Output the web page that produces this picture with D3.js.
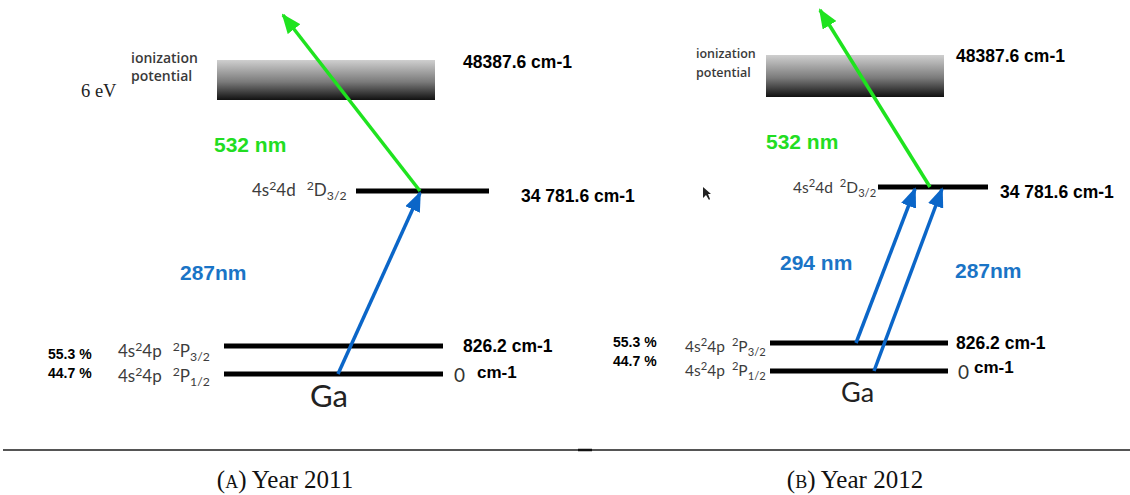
<!DOCTYPE html>
<html>
<head>
<meta charset="utf-8">
<script src="https://cdn.jsdelivr.net/npm/d3@7"></script>
<style>
  body { margin: 0; background: #fff; }
  svg { display: block; }
</style>
</head>
<body>
<svg id="chart" width="1130" height="495"></svg>
<script>
// energy levels of Ga (cm-1)
var levelNames = ["P1/2", "P3/2", "D3/2"];
var levelEnergies = [0, 826.2, 34781.6];
var levelConfigs = ["4s\u00b24p", "4s\u00b24p", "4s\u00b24d"];
var levelTerms = [["2", "P", "1/2"], ["2", "P", "3/2"], ["2", "D", "3/2"]];
var populations = ["44.7 %", "55.3 %"];
var ionizationEnergy = 48387.6;
var energyLabels = ["0", "826.2 cm-1", "34 781.6 cm-1", "48387.6 cm-1"];

// lasers used each year
var panelTags = ["(a)", "(b)"];
var panelYears = ["Year 2011", "Year 2012"];
var excitations2011 = [{ from: "P1/2", to: "D3/2", label: "287nm" }];
var excitations2012 = [
  { from: "P3/2", to: "D3/2", label: "294 nm" },
  { from: "P1/2", to: "D3/2", label: "287nm" }
];
var ionizingLabel = "532 nm";

var svg = d3.select("#chart");
var green = "#1fe31f", blue = "#0b66c8";
var boldFont = "Liberation Sans, Arial, sans-serif";

// gradient for ionization continuum
var defs = svg.append("defs");
var grad = defs.append("linearGradient").attr("id", "ipgrad")
    .attr("x1", 0).attr("y1", 0).attr("x2", 0).attr("y2", 1);
grad.append("stop").attr("offset", "0%").attr("stop-color", "#cfcfcf");
grad.append("stop").attr("offset", "55%").attr("stop-color", "#7a7a7a");
grad.append("stop").attr("offset", "100%").attr("stop-color", "#111");

function marker(id, color) {
  defs.append("marker").attr("id", id)
      .attr("viewBox", "0 0 20 16").attr("refX", 18).attr("refY", 8)
      .attr("markerWidth", 20).attr("markerHeight", 16)
      .attr("markerUnits", "userSpaceOnUse").attr("orient", "auto")
    .append("path").attr("d", "M0,0 L20,8 L0,16 Z").attr("fill", color);
}
marker("arrGreen", green);
marker("arrBlue", blue);

// layout of the two panels (pixel positions)
var panels = [
  { tag: panelTags[0], year: panelYears[0], ex: excitations2011,
    yRange: [374, 346, 191, 100], barTop: 60,
    lowX: [224, 443], dX: [356, 489], barX: [217, 435],
    exStartX: { "P1/2": 338 }, exEndX: [420],
    greenFrom: 420, greenTip: [283, 15],
    labelFont: 17, termGap: 11, ipX: 131, ipFont: 14, ipY: [63, 81], eV: true,
    pctX: 48, pctY: [378, 359], pctFont: 14, cfgX: 118, labDy: [8, 11, 5],
    gaX: 310, gaSize: 31, gaDy: 33,
    valX: 463, zeroX: 454, cmDx: 23, cmDy: 4, dValX: 521, dLabX: 252,
    ipValY: 68, dValDy: 11,
    exLabels: [[180, 280]], greenLab: [214, 152], caption: 285 },
  { tag: panelTags[1], year: panelYears[1], ex: excitations2012,
    yRange: [371, 343, 187, 97], barTop: 55,
    lowX: [770, 948], dX: [878, 988], barX: [766, 944],
    exStartX: { "P3/2": 856, "P1/2": 874 }, exEndX: [915, 942],
    greenFrom: 930, greenTip: [820, 10],
    labelFont: 15.5, termGap: 7, ipX: 696, ipFont: 12.5, ipY: [58, 77], eV: false,
    pctX: 613, pctY: [366, 347], pctFont: 14, cfgX: 685, labDy: [5, 9, 6],
    gaX: 841, gaSize: 27, gaDy: 31,
    valX: 956, zeroX: 958, cmDx: 16, cmDy: 2, dValX: 1000, dLabX: 793,
    ipValY: 62, dValDy: 11,
    exLabels: [[780, 270], [955, 278]], greenLab: [766, 149], caption: 855 }
];

panels.forEach(function(p) {
  var y = d3.scaleLinear()
      .domain(levelEnergies.concat([ionizationEnergy]))
      .range(p.yRange);
  var g = svg.append("g");

  // ionization continuum
  g.append("rect").attr("x", p.barX[0]).attr("y", p.barTop)
      .attr("width", p.barX[1] - p.barX[0]).attr("height", y(ionizationEnergy) - p.barTop)
      .attr("fill", "url(#ipgrad)");
  ["ionization", "potential"].forEach(function(w, i) {
    g.append("text").attr("x", p.ipX).attr("y", p.ipY[i])
        .attr("font-family", "Open Sans, sans-serif").attr("font-size", p.ipFont)
        .attr("font-weight", 600).attr("fill", "#3a3a3a").text(w);
  });
  if (p.eV) {
    g.append("text").attr("x", 81).attr("y", 97)
        .attr("font-family", "Liberation Serif, serif").attr("font-size", 18.5)
        .attr("fill", "#222").text("6 eV");
  }
  g.append("text").attr("x", p.valX).attr("y", p.ipValY)
      .attr("font-family", boldFont).attr("font-weight", "bold")
      .attr("font-size", 17.5).text(energyLabels[3]);

  // levels
  levelNames.forEach(function(n, i) {
    var yy = y(levelEnergies[i]);
    var xs = i < 2 ? p.lowX : p.dX;
    g.append("line").attr("x1", xs[0]).attr("x2", xs[1])
        .attr("y1", yy).attr("y2", yy)
        .attr("stroke", "#000").attr("stroke-width", 5);

    var fs = p.labelFont;
    var lx = i < 2 ? p.cfgX : p.dLabX;
    var t = g.append("text").attr("x", lx).attr("y", yy + p.labDy[i])
        .attr("font-family", "Lato, sans-serif").attr("font-size", fs)
        .attr("fill", "#3c3c3c");
    var cfg = levelConfigs[i];
    t.append("tspan").text(cfg.slice(0, 2));
    t.append("tspan").attr("font-size", fs * 0.72).attr("dy", -fs * 0.38).text("2");
    t.append("tspan").attr("dy", fs * 0.38).text(cfg.slice(3));
    var term = levelTerms[i];
    t.append("tspan").attr("font-size", fs * 0.72).attr("dx", p.termGap).attr("dy", -fs * 0.38).text(term[0]);
    t.append("tspan").attr("dy", fs * 0.38).text(term[1]);
    t.append("tspan").attr("font-size", fs * 0.72).attr("dy", fs * 0.25).text(term[2]);

    if (i < 2) {
      g.append("text").attr("x", p.pctX).attr("y", p.pctY[i])
          .attr("font-family", boldFont).attr("font-weight", "bold")
          .attr("font-size", p.pctFont).text(populations[i]);
    }
  });

  // energy values
  var y0 = y(levelEnergies[0]), y1 = y(levelEnergies[1]), y2 = y(levelEnergies[2]);
  g.append("text").attr("x", p.valX).attr("y", y1 + 6)
      .attr("font-family", boldFont).attr("font-weight", "bold")
      .attr("font-size", 17.5).text(energyLabels[1]);
  g.append("text").attr("x", p.zeroX).attr("y", y0 + 8)
      .attr("font-family", "Lato, sans-serif").attr("font-size", 19)
      .attr("fill", "#333").text(energyLabels[0]);
  g.append("text").attr("x", p.zeroX + p.cmDx).attr("y", y0 + p.cmDy)
      .attr("font-family", boldFont).attr("font-weight", "bold")
      .attr("font-size", 17).text("cm-1");
  g.append("text").attr("x", p.dValX).attr("y", y2 + p.dValDy)
      .attr("font-family", boldFont).attr("font-weight", "bold")
      .attr("font-size", 17.5).text(energyLabels[2]);

  g.append("text").attr("x", p.gaX).attr("y", y0 + p.gaDy)
      .attr("font-family", "Lato, sans-serif").attr("font-size", p.gaSize)
      .attr("fill", "#222").text("Ga");

  // excitation arrows
  p.ex.forEach(function(e, k) {
    var fromY = y(levelEnergies[levelNames.indexOf(e.from)]);
    var toY = y(levelEnergies[levelNames.indexOf(e.to)]);
    g.append("line").attr("x1", p.exStartX[e.from]).attr("y1", fromY)
        .attr("x2", p.exEndX[k]).attr("y2", toY + 2)
        .attr("stroke", blue).attr("stroke-width", 3.5)
        .attr("marker-end", "url(#arrBlue)");
    g.append("text").attr("x", p.exLabels[k][0]).attr("y", p.exLabels[k][1])
        .attr("font-family", boldFont).attr("font-weight", "bold")
        .attr("font-size", 21).attr("fill", "#1a74c6").text(e.label);
  });

  // ionizing arrow
  g.append("line").attr("x1", p.greenFrom).attr("y1", y2)
      .attr("x2", p.greenTip[0]).attr("y2", p.greenTip[1])
      .attr("stroke", green).attr("stroke-width", 3.5)
      .attr("marker-end", "url(#arrGreen)");
  g.append("text").attr("x", p.greenLab[0]).attr("y", p.greenLab[1])
      .attr("font-family", boldFont).attr("font-weight", "bold")
      .attr("font-size", 21).attr("fill", "#22dd22").text(ionizingLabel);

  // caption
  var c = svg.append("text").attr("x", p.caption).attr("y", 488)
      .attr("text-anchor", "middle")
      .attr("font-family", "Liberation Serif, serif").attr("font-size", 25)
      .attr("fill", "#111");
  c.append("tspan").style("font-variant", "small-caps").text(p.tag);
  c.append("tspan").text(" " + p.year);
});

// mouse pointer left in the 2012 picture
svg.append("path").attr("d", "M703,187 L703,198 L706,195 L709,200 L710,199 L708,194 L711,194 Z")
    .attr("fill", "#222");

// separator under the pictures
svg.append("line").attr("x1", 3).attr("x2", 1130).attr("y1", 450).attr("y2", 450)
    .attr("stroke", "#555").attr("stroke-width", 2);
svg.append("line").attr("x1", 578).attr("x2", 592).attr("y1", 450).attr("y2", 450)
    .attr("stroke", "#111").attr("stroke-width", 2.5);
</script>
</body>
</html>
